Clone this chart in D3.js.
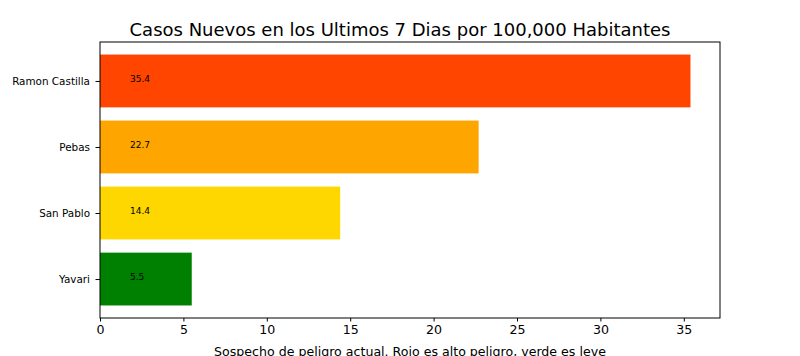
<!DOCTYPE html>
<html><head><meta charset="utf-8">
<script src="https://cdn.jsdelivr.net/npm/d3@7"></script>
<style>body{margin:0;background:#fff;} svg{display:block;font-family:"DejaVu Sans",sans-serif;}</style>
</head><body>
<script>
const categories = ["Yavari", "San Pablo", "Pebas", "Ramon Castilla"];
const values = [5.5, 14.4, 22.7, 35.4];
const barColors = ["#008000", "#FFD700", "#FFA500", "#FF4500"];
const xTicks = [0, 5, 10, 15, 20, 25, 30, 35];
const title = "Casos Nuevos en los Ultimos 7 Dias por 100,000 Habitantes";
const xLabel = "Sospecho de peligro actual. Rojo es alto peligro, verde es leve";

const W = 800, H = 356;
const L = 100, R = 720, T = 42, B = 318;
const svg = d3.select("body").append("svg").attr("width", W).attr("height", H);

const xMax = d3.max(values) * 1.05;
const x = d3.scaleLinear().domain([0, xMax]).range([L, R]);
const n = categories.length;
const y = d3.scaleLinear().domain([-0.4 - 0.05 * (n - 0.2), n - 0.6 + 0.05 * (n - 0.2)]).range([B, T]);
const bh = 0.8;

svg.selectAll("rect.bar").data(values).join("rect").attr("class", "bar")
  .attr("x", x(0)).attr("width", d => x(d) - x(0))
  .attr("y", (d, i) => y(i + bh / 2)).attr("height", (d, i) => y(i - bh / 2) - y(i + bh / 2))
  .attr("fill", (d, i) => barColors[i]);

svg.selectAll("text.val").data(values).join("text").attr("class", "val")
  .attr("x", x(1.8)).attr("y", (d, i) => y(i) + 1)
  .attr("font-size", 9).attr("fill", "#000")
  .text(d => d.toFixed(1));

const xAxis = d3.axisBottom(x).tickValues(xTicks).tickSize(3.5).tickPadding(4).tickFormat(d3.format("d"));
const gx = svg.append("g").attr("transform", `translate(0,${B})`).call(xAxis);
gx.select(".domain").remove();
gx.selectAll("text").attr("font-size", 12.6).attr("font-family", "DejaVu Sans").attr("fill", "#000");
gx.selectAll("line").attr("stroke", "#000");

const yAxis = d3.axisLeft(y).tickValues(d3.range(n)).tickSize(4.5).tickPadding(5.5).tickFormat(i => categories[i]);
const gy = svg.append("g").attr("transform", `translate(${L},0)`).call(yAxis);
gy.select(".domain").remove();
gy.selectAll("text").attr("font-size", 10.4).attr("font-family", "DejaVu Sans").attr("fill", "#000");
gy.selectAll("line").attr("stroke", "#000");

svg.append("rect").attr("x", L).attr("y", T).attr("width", R - L).attr("height", B - T)
  .attr("fill", "none").attr("stroke", "#000").attr("stroke-width", 1);

svg.append("text").attr("x", 400).attr("y", 36).attr("text-anchor", "middle")
  .attr("font-size", 18).text(title);
svg.append("text").attr("x", (L + R) / 2).attr("y", 356).attr("text-anchor", "middle")
  .attr("font-size", 12.6).text(xLabel);
</script>
</body></html>
